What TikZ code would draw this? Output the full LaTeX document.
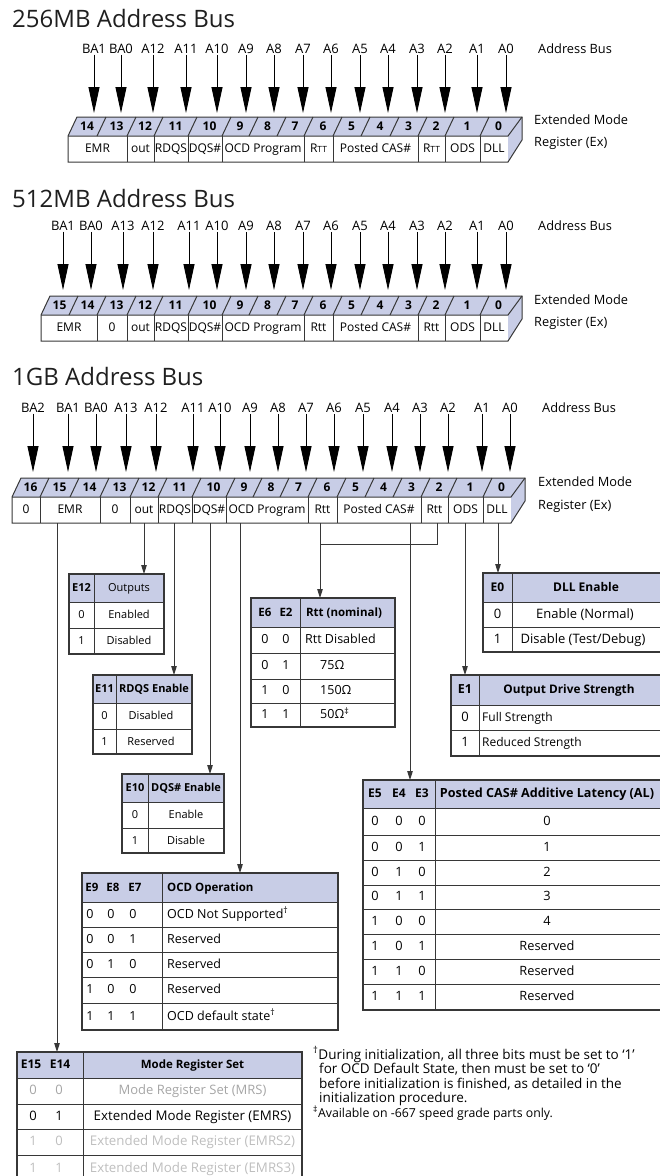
\documentclass[tikz,border=0pt]{standalone}
\usepackage{fontspec}
\setmainfont{Open Sans}
\usetikzlibrary{arrows.meta}
\definecolor{hdr}{RGB}{200,205,230}
\definecolor{lc}{RGB}{55,55,55}
\definecolor{gA}{RGB}{165,165,165}
\definecolor{gB}{RGB}{190,190,190}
\newcommand{\fsz}[1]{\fontsize{#1}{#1}\selectfont}
\tikzset{
  ttl/.style={font=\fsz{24}, anchor=base west, inner sep=0pt, text=black!88},
  buslbl/.style={font=\fsz{13}, anchor=base, inner sep=1.5pt},
  sidelbl/.style={font=\fsz{12.8}, anchor=base west, inner sep=0pt},
  busarr/.style={line width=0.9pt, -{Triangle[width=11pt,length=26pt]}},
  regline/.style={draw=lc, line width=1pt},
  cellt/.style={font=\fsz{12}, inner sep=0pt, text height=1.5ex, text depth=.15ex},
  bitn/.style={font=\bfseries\fsz{12}, inner sep=0pt, text height=1.5ex, text depth=.15ex},
  conn/.style={draw=lc, line width=1pt},
  connarr/.style={conn, -{Triangle[width=5.5pt,length=9pt]}},
  tb/.style={font=\fsz{11}, inner sep=0pt, text height=1.5ex, text depth=.15ex},
  tbb/.style={tb, font=\bfseries\fsz{11}},
  tgrid/.style={draw=lc, line width=0.8pt},
  tframe/.style={draw=lc, line width=1.1pt},
  fnote/.style={font=\fsz{13.5}, anchor=base west, inner sep=0pt},
}
\begin{document}
\begin{tikzpicture}[x=1pt,y=-1pt]
\useasboundingbox (0,0) rectangle (659,1176);

%% ================= 256MB =================
\node[ttl] (t256) at (12,27) {256MB Address Bus};
\foreach \l/\x [count=\i] in {BA1/94,BA0/121,A12/153,A11/186,A10/217,A9/246,A8/274,A7/303,A6/331,A5/360,A4/388,A3/417,A2/445,A1/477,A0/506}{
  \node[buslbl] (pal\i) at (\x,53) {\l};
  \coordinate (pat\i) at (\x,113);
  \draw[busarr] (pal\i.south) -- (pat\i);
}
\node[sidelbl] (pab) at (538,53) {Address Bus};
\fill[hdr] (68,136) -- (77,117) -- (522,117) -- (522,140) -- (508,162) -- (508,136) -- cycle;
\fill[white] (68,136) rectangle (508,162);
\draw[regline] (68,136) -- (77,117) -- (522,117) -- (522,140) -- (508,162) -- (68,162) -- cycle;
\draw[regline] (68,136) -- (508,136) -- (522,117);
\foreach \a in {97,127,154,188,222,249,277,304,333,361,390,418,445,480} \draw[regline] (\a,136) -- (\a+9,117);
\foreach \a in {127,154,188,222,304,333,418,445,480} \draw[regline] (\a,136) -- (\a,162);
\foreach \a/\b/\n in {68/97/14,97/127/13,127/154/12,154/188/11,188/222/10,222/249/9,249/277/8,277/304/7,304/333/6,333/361/5,361/390/4,390/418/3,418/445/2,445/480/1,480/508/0}
  \node[bitn] (pan\n) at ({(\a+\b)/2+4.5},126.5) {\n};
\foreach \a/\b/\t [count=\i] in {68/127/EMR,127/154/out,154/188/RDQS,188/222/DQS\#,222/304/OCD Program,304/333/{R{\fsz{8.5}TT}},333/418/Posted CAS\#,418/445/{R{\fsz{8.5}TT}},445/480/ODS,480/508/DLL}
  \node[cellt] (pac\i) at ({(\a+\b)/2},149) {\t};
\node[sidelbl] (pae1) at (534,124) {Extended Mode};
\node[sidelbl] (pae2) at (534,146) {Register (Ex)};

%% ================= 512MB =================
\node[ttl] (t512) at (12,207) {512MB Address Bus};
\foreach \l/\x [count=\i] in {BA1/63,BA0/91,A13/123,A12/153,A11/189,A10/217,A9/246,A8/274,A7/303,A6/331,A5/360,A4/388,A3/417,A2/445,A1/477,A0/506}{
  \node[buslbl] (pbl\i) at (\x,230) {\l};
  \coordinate (pbt\i) at (\x,290);
  \draw[busarr] (pbl\i.south) -- (pbt\i);
}
\node[sidelbl] (pbb) at (538,230) {Address Bus};
\fill[hdr] (41,315) -- (50,296) -- (522,296) -- (522,319) -- (508,341) -- (508,315) -- cycle;
\fill[white] (41,315) rectangle (508,341);
\draw[regline] (41,315) -- (50,296) -- (522,296) -- (522,319) -- (508,341) -- (41,341) -- cycle;
\draw[regline] (41,315) -- (508,315) -- (522,296);
\foreach \a in {69,97,127,154,188,222,249,277,304,333,361,390,418,445,480} \draw[regline] (\a,315) -- (\a+9,296);
\foreach \a in {97,127,154,188,222,304,333,418,445,480} \draw[regline] (\a,315) -- (\a,341);
\foreach \a/\b/\n in {41/69/15,69/97/14,97/127/13,127/154/12,154/188/11,188/222/10,222/249/9,249/277/8,277/304/7,304/333/6,333/361/5,361/390/4,390/418/3,418/445/2,445/480/1,480/508/0}
  \node[bitn] (pbn\n) at ({(\a+\b)/2+4.5},305.5) {\n};
\foreach \a/\b/\t [count=\i] in {41/97/EMR,97/127/0,127/154/out,154/188/RDQS,188/222/DQS\#,222/304/OCD Program,304/333/Rtt,333/418/Posted CAS\#,418/445/Rtt,445/480/ODS,480/508/DLL}
  \node[cellt] (pbc\i) at ({(\a+\b)/2},328) {\t};
\node[sidelbl] (pbe1) at (534,304) {Extended Mode};
\node[sidelbl] (pbe2) at (534,326) {Register (Ex)};

%% ================= 1GB =================
\node[ttl] (t1g) at (12,385) {1GB Address Bus};
\foreach \l/\x [count=\i] in {BA2/33,BA1/68,BA0/96,A13/126,A12/156,A11/193,A10/220,A9/250,A8/278,A7/306,A6/334,A5/363,A4/392,A3/420,A2/448,A1/482,A0/510}{
  \node[buslbl] (pcl\i) at (\x,412) {\l};
  \coordinate (pct\i) at (\x,472);
  \draw[busarr] (pcl\i.south) -- (pct\i);
}
\node[sidelbl] (pcb) at (542,412) {Address Bus};
\fill[hdr] (12,497) -- (21,478) -- (525,478) -- (525,501) -- (511,523) -- (511,497) -- cycle;
\fill[white] (12,497) rectangle (511,523);
\draw[regline] (12,497) -- (21,478) -- (525,478) -- (525,501) -- (511,523) -- (12,523) -- cycle;
\draw[regline] (12,497) -- (511,497) -- (525,478);
\foreach \a in {40,70,100,130,158,192,226,253,280,308,337,365,393,421,448,483} \draw[regline] (\a,497) -- (\a+9,478);
\foreach \a in {40,100,130,158,192,226,308,337,421,448,483} \draw[regline] (\a,497) -- (\a,523);
\foreach \a/\b/\n in {12/40/16,40/70/15,70/100/14,100/130/13,130/158/12,158/192/11,192/226/10,226/253/9,253/280/8,280/308/7,308/337/6,337/365/5,365/393/4,393/421/3,421/448/2,448/483/1,483/511/0}
  \node[bitn] (pcn\n) at ({(\a+\b)/2+4.5},487.5) {\n};
\foreach \a/\b/\t [count=\i] in {12/40/0,40/100/EMR,100/130/0,130/158/out,158/192/RDQS,192/226/DQS\#,226/308/OCD Program,308/337/Rtt,337/421/Posted CAS\#,421/448/Rtt,448/483/ODS,483/511/DLL}
  \node[cellt] (pcc\i) at ({(\a+\b)/2},510) {\t};
\node[sidelbl] (pce1) at (538,486) {Extended Mode};
\node[sidelbl] (pce2) at (538,509) {Register (Ex)};

%% ================= connectors =================
\coordinate (s-emr) at (57,523);   \coordinate (d-emr) at (57,1052);
\coordinate (s-out) at (144,523);  \coordinate (d-out) at (144,574);
\coordinate (s-rdqs) at (174,523); \coordinate (d-rdqs) at (174,675);
\coordinate (s-dqs) at (210,523);  \coordinate (d-dqs) at (210,774);
\coordinate (s-ocd) at (240,523);  \coordinate (d-ocd) at (240,873);
\coordinate (s-rtt) at (320,523);  \coordinate (d-rtt) at (320,598);
\coordinate (s-rtt2) at (437,523); \coordinate (j-rtt2) at (437,544); \coordinate (j-rtt) at (320,544);
\coordinate (s-cas) at (410,523);  \coordinate (d-cas) at (410,780);
\coordinate (s-ods) at (465,523);  \coordinate (d-ods) at (465,675);
\coordinate (s-dll) at (498,523);  \coordinate (d-dll) at (498,573);
\draw[connarr] (s-emr) -- (d-emr);
\draw[connarr] (s-out) -- (d-out);
\draw[connarr] (s-rdqs) -- (d-rdqs);
\draw[connarr] (s-dqs) -- (d-dqs);
\draw[connarr] (s-ocd) -- (d-ocd);
\draw[connarr] (s-rtt) -- (d-rtt);
\draw[conn] (s-rtt2) -- (j-rtt2) -- (j-rtt);
\draw[connarr] (s-cas) -- (d-cas);
\draw[connarr] (s-ods) -- (d-ods);
\draw[connarr] (s-dll) -- (d-dll);

%% ================= E12 table =================
\fill[hdr] (69,574) rectangle (164,602);
\draw[tgrid] (69,602) -- (164,602) (69,628) -- (164,628) (94,574) -- (94,654);
\draw[tframe] (69,574) rectangle (164,654);
\node[tbb] (e12h1) at (81.5,588) {E12};
\node[tb] (e12h2) at (129,588) {Outputs};
\node[tb] (e12a) at (81.5,615) {0};
\node[tb] (e12b) at (129,615) {Enabled};
\node[tb] (e12c) at (81.5,641) {1};
\node[tb] (e12d) at (129,641) {Disabled};

%% ================= E11 table =================
\fill[hdr] (93,675) rectangle (192,703);
\draw[tgrid] (93,703) -- (192,703) (93,729) -- (192,729) (116,675) -- (116,754);
\draw[tframe] (93,675) rectangle (192,754);
\node[tbb] (e11h1) at (104.5,689) {E11};
\node[tbb] (e11h2) at (154,689) {RDQS Enable};
\node[tb] (e11a) at (104.5,716) {0};
\node[tb] (e11b) at (151,716) {Disabled};
\node[tb] (e11c) at (104.5,741.5) {1};
\node[tb] (e11d) at (151,741.5) {Reserved};

%% ================= E10 table =================
\fill[hdr] (122,774) rectangle (224,802);
\draw[tgrid] (122,802) -- (224,802) (122,828) -- (224,828) (148,774) -- (148,853);
\draw[tframe] (122,774) rectangle (224,853);
\node[tbb] (e10h1) at (135,788) {E10};
\node[tbb] (e10h2) at (186,788) {DQS\# Enable};
\node[tb] (e10a) at (135,815) {0};
\node[tb] (e10b) at (186,815) {Enable};
\node[tb] (e10c) at (135,840.5) {1};
\node[tb] (e10d) at (186,840.5) {Disable};

%% ================= Rtt table =================
\fill[hdr] (251,598) rectangle (395,627);
\draw[tgrid] (251,627) -- (395,627) (251,653) -- (395,653) (251,679) -- (395,679) (251,703) -- (395,703) (300,598) -- (300,727);
\draw[tframe] (251,598) rectangle (395,727);
\node[tbb, font=\bfseries\fsz{11.5}] (rth1) at (265,612.5) {E6};
\node[tbb, font=\bfseries\fsz{11.5}] (rth2) at (286,612.5) {E2};
\node[tbb, font=\bfseries\fsz{11.5}] (rth3) at (344,612.5) {Rtt (nominal)};
\foreach \p/\q/\y [count=\i] in {0/0/640,0/1/666,1/0/691,1/1/715}{
  \node[tb, font=\fsz{12.5}] (rtp\i) at (265,\y) {\p};
  \node[tb, font=\fsz{12.5}] (rtq\i) at (286,\y) {\q};
}
\node[tb, font=\fsz{12.5}, anchor=west] (rtv1) at (305,640) {Rtt Disabled};
\node[tb, font=\fsz{12.5}, anchor=west] (rtv2) at (320,666) {75Ω};
\node[tb, font=\fsz{12.5}, anchor=west] (rtv3) at (320,691) {150Ω};
\node[tb, font=\fsz{12.5}, anchor=west] (rtv4) at (320,715) {50Ω\textsuperscript{‡}};

%% ================= E0 table =================
\fill[hdr] (483,573) rectangle (662,602);
\draw[tgrid] (483,602) -- (662,602) (483,627) -- (662,627) (512,573) -- (512,652);
\draw[tframe] (662,573) -- (483,573) -- (483,652) -- (662,652);
\node[tbb, font=\bfseries\fsz{12}] (e0h1) at (497.5,587.5) {E0};
\node[tbb, font=\bfseries\fsz{12}] (e0h2) at (586,587.5) {DLL Enable};
\node[tb, font=\fsz{13}] (e0a) at (497.5,614.5) {0};
\node[tb, font=\fsz{13}] (e0b) at (585,614.5) {Enable (Normal)};
\node[tb, font=\fsz{13}] (e0c) at (497.5,639.5) {1};
\node[tb, font=\fsz{13}] (e0d) at (583,639.5) {Disable (Test/Debug)};

%% ================= E1 table =================
\fill[hdr] (451,675) rectangle (662,705);
\draw[tgrid] (451,705) -- (662,705) (451,730) -- (662,730) (479,675) -- (479,756);
\draw[tframe] (662,675) -- (451,675) -- (451,756) -- (662,756);
\node[tbb, font=\bfseries\fsz{12.5}] (e1h1) at (465,690) {E1};
\node[tbb, font=\bfseries\fsz{11.8}] (e1h2) at (569,690) {Output Drive Strength};
\node[tb, font=\fsz{13}] (e1a) at (465,717.5) {0};
\node[tb, font=\fsz{12}, anchor=west] (e1b) at (482,717.5) {Full Strength};
\node[tb, font=\fsz{13}] (e1c) at (465,743) {1};
\node[tb, font=\fsz{12}, anchor=west] (e1d) at (482,743) {Reduced Strength};

%% ================= Posted CAS table =================
\fill[hdr] (363,780) rectangle (662,808);
\draw[tgrid] (363,808) -- (662,808);
\foreach \y in {835,860,885,909,934,959,984} \draw[tgrid] (363,\y) -- (662,\y);
\draw[tgrid] (435,780) -- (435,1010);
\draw[tframe] (662,780) -- (363,780) -- (363,1010) -- (662,1010);
\node[tbb, font=\bfseries\fsz{12}] (pch1) at (375,794) {E5};
\node[tbb, font=\bfseries\fsz{12}] (pch2) at (399,794) {E4};
\node[tbb, font=\bfseries\fsz{12}] (pch3) at (422,794) {E3};
\node[tbb, font=\bfseries\fsz{12.6}] (pch4) at (547,794) {Posted CAS\# Additive Latency (AL)};
\foreach \p/\q/\r/\v/\y [count=\i] in {0/0/0/0/821.5,0/0/1/1/847.5,0/1/0/2/872.5,0/1/1/3/897,1/0/0/4/921.5,1/0/1/Reserved/946.5,1/1/0/Reserved/971.5,1/1/1/Reserved/997}{
  \node[tb, font=\fsz{12.8}] (pcp\i) at (375,\y) {\p};
  \node[tb, font=\fsz{12.8}] (pcq\i) at (399,\y) {\q};
  \node[tb, font=\fsz{12.8}] (pcr\i) at (422,\y) {\r};
  \node[tb, font=\fsz{12.8}] (pcv\i) at (547,\y) {\v};
}

%% ================= OCD table =================
\fill[hdr] (82,873) rectangle (338,902);
\draw[tgrid] (82,902) -- (338,902);
\foreach \y in {927,952,977,1003} \draw[tgrid] (82,\y) -- (338,\y);
\draw[tgrid] (162,873) -- (162,1030);
\draw[tframe] (82,873) rectangle (338,1030);
\node[tbb, font=\bfseries\fsz{11.5}] (och1) at (92,887.5) {E9};
\node[tbb, font=\bfseries\fsz{11.5}] (och2) at (113,887.5) {E8};
\node[tbb, font=\bfseries\fsz{11.5}] (och3) at (135,887.5) {E7};
\node[tbb, font=\bfseries\fsz{11.5}, anchor=west] (och4) at (167,887.5) {OCD Operation};
\foreach \p/\q/\r/\y [count=\i] in {0/0/0/914.5,0/0/1/939.5,0/1/0/964.5,1/0/0/990,1/1/1/1016.5}{
  \node[tb, font=\fsz{12.5}] (ocp\i) at (90,\y) {\p};
  \node[tb, font=\fsz{12.5}] (ocq\i) at (111,\y) {\q};
  \node[tb, font=\fsz{12.5}] (ocr\i) at (133,\y) {\r};
}
\node[tb, font=\fsz{12.5}, anchor=west] (ocv1) at (167,914.5) {OCD Not Supported\textsuperscript{†}};
\node[tb, font=\fsz{12.5}, anchor=west] (ocv2) at (167,939.5) {Reserved};
\node[tb, font=\fsz{12.5}, anchor=west] (ocv3) at (167,964.5) {Reserved};
\node[tb, font=\fsz{12.5}, anchor=west] (ocv4) at (167,990) {Reserved};
\node[tb, font=\fsz{12.5}, anchor=west] (ocv5) at (167,1016.5) {OCD default state\textsuperscript{†}};

%% ================= MRS table =================
\fill[hdr] (17,1052) rectangle (302,1078);
\draw[tgrid] (17,1078) -- (302,1078) (17,1104) -- (302,1104) (17,1129) -- (302,1129) (17,1155) -- (302,1155) (83,1052) -- (83,1182);
\draw[tframe] (17,1182) -- (17,1052) -- (302,1052) -- (302,1182);
\node[tbb, font=\bfseries\fsz{12}] (mrh1) at (31,1065) {E15};
\node[tbb, font=\bfseries\fsz{12}] (mrh2) at (60,1065) {E14};
\node[tbb, font=\bfseries\fsz{11.5}] (mrh3) at (192.5,1065) {Mode Register Set};
\node[tb, font=\fsz{13}, text=gA] (mra1) at (33,1091) {0};
\node[tb, font=\fsz{13}, text=gA] (mrb1) at (59,1091) {0};
\node[tb, font=\fsz{13}, text=gA] (mrv1) at (192.5,1091) {Mode Register Set (MRS)};
\node[tb, font=\fsz{13}] (mra2) at (33,1116.5) {0};
\node[tb, font=\fsz{13}] (mrb2) at (59,1116.5) {1};
\node[tb, font=\fsz{13.3}] (mrv2) at (192.5,1116.5) {Extended Mode Register (EMRS)};
\node[tb, font=\fsz{13}, text=gB] (mra3) at (33,1142) {1};
\node[tb, font=\fsz{13}, text=gB] (mrb3) at (59,1142) {0};
\node[tb, font=\fsz{13.3}, text=gB] (mrv3) at (192.5,1142) {Extended Mode Register (EMRS2)};
\node[tb, font=\fsz{13}, text=gB] (mra4) at (33,1168.5) {1};
\node[tb, font=\fsz{13}, text=gB] (mrb4) at (59,1168.5) {1};
\node[tb, font=\fsz{13.3}, text=gB] (mrv4) at (192.5,1168.5) {Extended Mode Register (EMRS3)};

%% ================= footnote =================
\node[fnote] (fn1) at (313,1059) {\textsuperscript{†}During initialization, all three bits must be set to ‘1’};
\node[fnote] (fn2) at (319,1073.5) {for OCD Default State, then must be set to ‘0’};
\node[fnote] (fn3) at (319,1088) {before initialization is finished, as detailed in the};
\node[fnote] (fn4) at (319,1102.5) {initialization procedure.};
\node[fnote, font=\fsz{12.3}] (fn5) at (313,1117) {\textsuperscript{‡}Available on -667 speed grade parts only.};
\end{tikzpicture}
\end{document}
